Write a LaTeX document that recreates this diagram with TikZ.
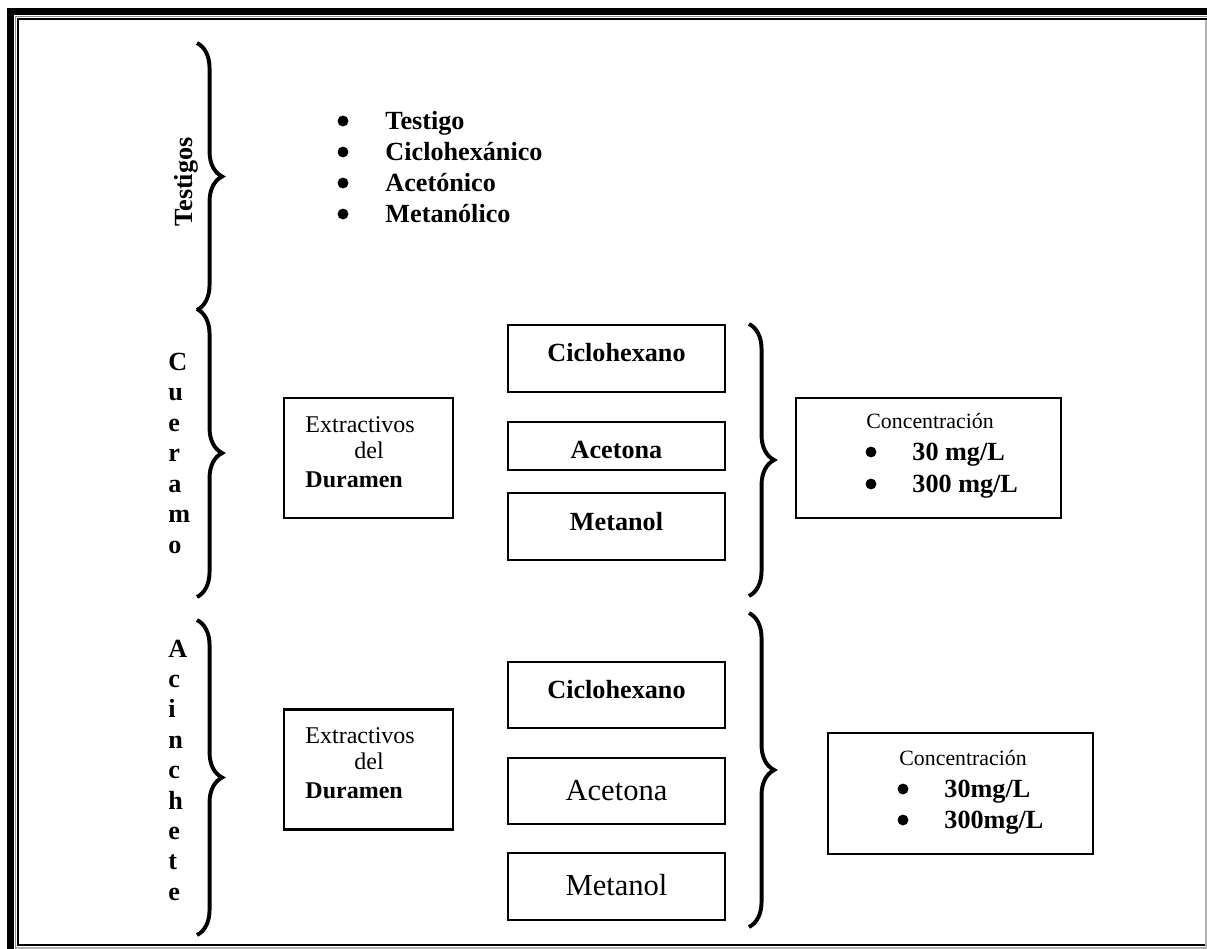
\documentclass[tikz,border=0pt,12pt]{standalone}
\usepackage{fontspec}
\setmainfont{Liberation Serif}
\usetikzlibrary{positioning}
\usetikzlibrary{decorations.pathreplacing}
\tikzset{
    txt/.style={inner sep=0pt, anchor=base west},
    ctxt/.style={inner sep=0pt, anchor=base},
    bulletdot/.style={circle, fill=black, draw=none, inner sep=0pt, minimum size=5pt},
    solvbox/.style={draw, line width=1.1pt, inner sep=0pt, minimum width=99.45pt},
    extbox/.style={draw, line width=1.1pt, inner sep=0pt, minimum width=77.45pt, minimum height=55pt},
    concbox/.style={draw, line width=1.1pt, inner sep=0pt, minimum width=121.45pt, minimum height=55.2pt},
    curly/.style={decorate, decoration={brace, amplitude=11.5pt}, line width=1.8pt},
}

\begin{document}
\begin{tikzpicture}[x=0.4583pt, y=-0.4583pt]
            \useasboundingbox (0,0) rectangle (1207,949);
            % page frame
            \draw[line width=3.2pt] (10.5,949) -- (10.5,11.5) -- (1207,11.5);
            \draw[black!45, line width=0.6pt] (15.5,949) -- (15.5,16.5) -- (1207,16.5);
            \draw[line width=1.15pt] (1207,19) -| (18,945) -- (1207,945);
            \draw[black!30, line width=0.7pt] (1206,20) -- (1206,949);
            \draw[black!30, line width=0.7pt] (16,948) -- (1207,948);

            % left braces and their labels
            \coordinate (tsttop) at (197,43);
            \coordinate (tstbot) at (197,310);
            \coordinate (cuetop) at (197,309);
            \coordinate (cuebot) at (197,597);
            \coordinate (acitop) at (197,620);
            \coordinate (acibot) at (197,935);
            \draw[curly] (tsttop) -- (tstbot);
            \draw[curly] (cuetop) -- (cuebot);
            \draw[curly] (acitop) -- (acibot);
            \node[rotate=90, inner sep=0pt, font=\bfseries] (tstlbl) at (186,182) {Testigos};
            \foreach \ch [count=\k from 0] in {C,u,e,r,a,m,o}
                \node[txt, font=\bfseries] (cue\k) at (168, 370+30.5*\k) {\ch};
            \foreach \ch [count=\k from 0] in {A,c,i,n,c,h,e,t,e}
                \node[txt, font=\bfseries] (aci\k) at (168, 657+30.4*\k) {\ch};

            % control list
            \foreach \name [count=\k from 0] in {Testigo, Ciclohexánico, Acetónico, Metanólico} {
                \node[bulletdot] (tstdot\k) at (343, 121+31*\k) {};
                \node[txt, font=\bfseries] (tst\k) at (385, 129+31*\k) {\name};
            }

            % heartwood extract boxes
            \foreach \i/\cy in {1/458, 2/769.5} {
                \node[extbox] (ext\i) at (368.5,\cy) {};
                \node[txt, font=\fontsize{11}{13}\selectfont] (ext\i-l1) at (305,\cy-26) {Extractivos};
                \node[txt, font=\fontsize{11}{13}\selectfont] (ext\i-l2) at (354,\cy) {del};
                \node[txt, font=\fontsize{11}{13}\selectfont\bfseries] (ext\i-l3) at (305,\cy+29) {Duramen};
            }

            % solvents, Cueramo
            \node[solvbox, minimum height=30.7pt] (cic1) at (616.5,358.5) {};
            \node[solvbox, minimum height=22pt] (ace1) at (616.5,446) {};
            \node[solvbox, minimum height=30.7pt] (met1) at (616.5,526.5) {};
            \node[ctxt, font=\bfseries] (cic1-t) at (616.5,361.7) {Ciclohexano};
            \node[ctxt, font=\bfseries] (ace1-t) at (616.5,458) {Acetona};
            \node[ctxt, font=\bfseries] (met1-t) at (616.5,530) {Metanol};

            % solvents, Acinchete
            \node[solvbox, minimum height=30.25pt] (cic2) at (616.5,695) {};
            \node[solvbox, minimum height=30.25pt] (ace2) at (616.5,791) {};
            \node[solvbox, minimum height=30.7pt] (met2) at (616.5,886.5) {};
            \node[ctxt, font=\bfseries] (cic2-t) at (616.5,698) {Ciclohexano};
            \node[ctxt, font=\fontsize{14}{16}\selectfont] (ace2-t) at (616.5,800) {Acetona};
            \node[ctxt, font=\fontsize{14}{16}\selectfont] (met2-t) at (616.5,895) {Metanol};

            % right braces
            \coordinate (sol1top) at (749,324);
            \coordinate (sol1bot) at (749,596);
            \coordinate (sol2top) at (749,613);
            \coordinate (sol2bot) at (749,927);
            \draw[curly] (sol1top) -- (sol1bot);
            \draw[curly] (sol2top) -- (sol2bot);

            % concentrations
            \node[concbox] (conc1) at (928.5,458) {};
            \node[txt, font=\fontsize{10}{12}\selectfont] (conc1-t) at (866,428) {Concentración};
            \node[bulletdot] (conc1dot1) at (871,452) {};
            \node[bulletdot] (conc1dot2) at (871,484) {};
            \node[txt, font=\bfseries] (conc1-a) at (912,460) {30 mg/L};
            \node[txt, font=\bfseries] (conc1-b) at (912,492) {300 mg/L};
            \node[concbox] (conc2) at (960.5,793.5) {};
            \node[txt, font=\fontsize{10}{12}\selectfont] (conc2-t) at (899,765) {Concentración};
            \node[bulletdot] (conc2dot1) at (903,789) {};
            \node[bulletdot] (conc2dot2) at (903,820) {};
            \node[txt, font=\bfseries] (conc2-a) at (944,797) {30mg/L};
            \node[txt, font=\bfseries] (conc2-b) at (944,828) {300mg/L};
\end{tikzpicture}
\end{document}
